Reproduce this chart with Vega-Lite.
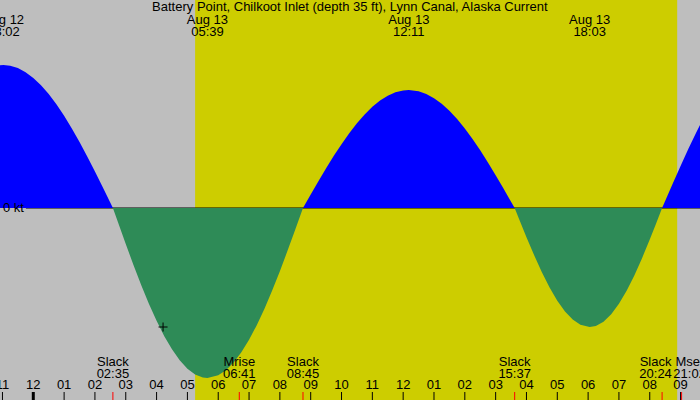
{
  "$schema": "https://vega.github.io/schema/vega-lite/v6.json",
  "width": 700,
  "height": 400,
  "autosize": {"type": "fit", "contains": "padding"},
  "padding": 0,
  "background": "#bebebe",
  "config": {
    "view": {"stroke": null},
    "axis": {"disable": true},
    "text": {"font": "Liberation Sans", "fontSize": 13, "color": "black"}
  },
  "datasets": {
    "curve": [
      {"t": -1.1, "v": 2.855}, {"t": -0.967, "v": 2.86}, {"t": -0.75, "v": 2.847}, {"t": -0.5, "v": 2.799},
      {"t": -0.25, "v": 2.717}, {"t": 0, "v": 2.602}, {"t": 0.25, "v": 2.455}, {"t": 0.5, "v": 2.278},
      {"t": 0.75, "v": 2.074}, {"t": 1.0, "v": 1.843}, {"t": 1.25, "v": 1.59}, {"t": 1.5, "v": 1.319},
      {"t": 1.75, "v": 1.029}, {"t": 2.0, "v": 0.73}, {"t": 2.25, "v": 0.42}, {"t": 2.5, "v": 0.105},
      {"t": 2.583, "v": 0},
      {"t": 2.8, "v": -0.377}, {"t": 3.0, "v": -0.721}, {"t": 3.25, "v": -1.139}, {"t": 3.5, "v": -1.539},
      {"t": 3.75, "v": -1.913}, {"t": 4.0, "v": -2.257}, {"t": 4.25, "v": -2.563}, {"t": 4.5, "v": -2.826},
      {"t": 4.75, "v": -3.046}, {"t": 5.0, "v": -3.213}, {"t": 5.25, "v": -3.329}, {"t": 5.5, "v": -3.39},
      {"t": 5.65, "v": -3.4}, {"t": 6.0, "v": -3.347}, {"t": 6.25, "v": -3.244}, {"t": 6.5, "v": -3.09},
      {"t": 6.75, "v": -2.885}, {"t": 7.0, "v": -2.635}, {"t": 7.25, "v": -2.343}, {"t": 7.5, "v": -2.013},
      {"t": 7.75, "v": -1.652}, {"t": 8.0, "v": -1.263}, {"t": 8.25, "v": -0.852}, {"t": 8.5, "v": -0.43},
      {"t": 8.75, "v": 0},
      {"t": 9.0, "v": 0.269}, {"t": 9.25, "v": 0.535}, {"t": 9.5, "v": 0.794}, {"t": 9.75, "v": 1.043},
      {"t": 10.0, "v": 1.277}, {"t": 10.25, "v": 1.496}, {"t": 10.5, "v": 1.694}, {"t": 10.75, "v": 1.871},
      {"t": 11.0, "v": 2.023}, {"t": 11.25, "v": 2.149}, {"t": 11.5, "v": 2.246}, {"t": 11.75, "v": 2.314},
      {"t": 12.0, "v": 2.352}, {"t": 12.183, "v": 2.36}, {"t": 12.5, "v": 2.335}, {"t": 12.75, "v": 2.281},
      {"t": 13.0, "v": 2.197}, {"t": 13.25, "v": 2.084}, {"t": 13.5, "v": 1.944}, {"t": 13.75, "v": 1.779},
      {"t": 14.0, "v": 1.59}, {"t": 14.25, "v": 1.381}, {"t": 14.5, "v": 1.155}, {"t": 14.75, "v": 0.912},
      {"t": 15.0, "v": 0.656}, {"t": 15.25, "v": 0.394}, {"t": 15.5, "v": 0.125}, {"t": 15.617, "v": 0},
      {"t": 15.75, "v": -0.204}, {"t": 16.0, "v": -0.583}, {"t": 16.25, "v": -0.946}, {"t": 16.5, "v": -1.284},
      {"t": 16.75, "v": -1.59}, {"t": 17.0, "v": -1.854}, {"t": 17.25, "v": -2.07}, {"t": 17.5, "v": -2.231},
      {"t": 17.75, "v": -2.335}, {"t": 18.05, "v": -2.38}, {"t": 18.25, "v": -2.359}, {"t": 18.5, "v": -2.273},
      {"t": 18.75, "v": -2.124}, {"t": 19.0, "v": -1.916}, {"t": 19.25, "v": -1.655}, {"t": 19.5, "v": -1.348},
      {"t": 19.75, "v": -1.003}, {"t": 20.0, "v": -0.629}, {"t": 20.2, "v": -0.318}, {"t": 20.4, "v": 0},
      {"t": 20.75, "v": 0.494}, {"t": 21.0, "v": 0.841}, {"t": 21.25, "v": 1.178}, {"t": 21.5, "v": 1.5},
      {"t": 21.7, "v": 1.746}
    ],
    "hours": [
      {"t": -1, "lab": "11"}, {"t": 0, "lab": "12"}, {"t": 1, "lab": "01"}, {"t": 2, "lab": "02"},
      {"t": 3, "lab": "03"}, {"t": 4, "lab": "04"}, {"t": 5, "lab": "05"}, {"t": 6, "lab": "06"},
      {"t": 7, "lab": "07"}, {"t": 8, "lab": "08"}, {"t": 9, "lab": "09"}, {"t": 10, "lab": "10"},
      {"t": 11, "lab": "11"}, {"t": 12, "lab": "12"}, {"t": 13, "lab": "01"}, {"t": 14, "lab": "02"},
      {"t": 15, "lab": "03"}, {"t": 16, "lab": "04"}, {"t": 17, "lab": "05"}, {"t": 18, "lab": "06"},
      {"t": 19, "lab": "07"}, {"t": 20, "lab": "08"}, {"t": 21, "lab": "09"}
    ],
    "extremes": [
      {"t": -0.967, "day": "Aug 12", "time": "23:02"},
      {"t": 5.65, "day": "Aug 13", "time": "05:39"},
      {"t": 12.183, "day": "Aug 13", "time": "12:11"},
      {"t": 18.05, "day": "Aug 13", "time": "18:03"}
    ],
    "events": [
      {"t": 2.583, "name": "Slack", "time": "02:35"},
      {"t": 6.683, "name": "Mrise", "time": "06:41"},
      {"t": 8.75, "name": "Slack", "time": "08:45"},
      {"t": 15.617, "name": "Slack", "time": "15:37"},
      {"t": 20.4, "name": "Slack", "time": "20:24"},
      {"t": 21.033, "name": "Mset", "time": "21:02"}
    ],
    "daylight": [{"start": 5.25, "end": 20.89}],
    "heading": [{"label": "Battery Point, Chilkoot Inlet (depth 35 ft), Lynn Canal, Alaska Current", "t": 10.27}],
    "zeroline": [{"from": -0.24, "to": 21.63, "v": 0, "label": "0 kt", "lt": -0.983}],
    "marker": [{"t": 4.21, "v": -2.38}]
  },
  "layer": [
    {
      "data": {"name": "daylight"},
      "mark": {"type": "rect", "color": "#cdcd00", "clip": true},
      "encoding": {
        "x": {"field": "start", "type": "quantitative", "scale": {"domain": [-1.08, 21.63], "nice": false, "zero": false}, "axis": null},
        "x2": {"field": "end"}
      }
    },
    {
      "data": {"name": "zeroline"},
      "mark": {"type": "rule", "color": "black", "strokeWidth": 1, "clip": true},
      "encoding": {
        "x": {"field": "from", "type": "quantitative", "axis": null, "title": null},
        "x2": {"field": "to"},
        "y": {"field": "v", "type": "quantitative", "scale": {"domain": [-3.84, 4.16], "nice": false, "zero": false}, "axis": null, "title": null}
      }
    },
    {
      "data": {"name": "curve"},
      "transform": [{"filter": "datum.v >= 0"}],
      "mark": {"type": "area", "color": "#0000ff", "clip": true},
      "encoding": {
        "x": {"field": "t", "type": "quantitative", "axis": null},
        "y": {"field": "v", "type": "quantitative", "axis": null},
        "y2": {"datum": 0}
      }
    },
    {
      "data": {"name": "curve"},
      "transform": [{"filter": "datum.v <= 0"}],
      "mark": {"type": "area", "color": "#2e8b57", "clip": true},
      "encoding": {
        "x": {"field": "t", "type": "quantitative", "axis": null},
        "y": {"field": "v", "type": "quantitative", "axis": null},
        "y2": {"datum": 0}
      }
    },
    {
      "data": {"name": "hours"},
      "mark": {"type": "rule", "color": "black", "strokeWidth": 1, "clip": true},
      "encoding": {
        "x": {"field": "t", "type": "quantitative", "axis": null},
        "y": {"datum": -3.68, "type": "quantitative", "axis": null},
        "y2": {"datum": -3.84}
      }
    },
    {
      "data": {"name": "hours"},
      "transform": [{"filter": "datum.t == 0"}],
      "mark": {"type": "rule", "color": "black", "strokeWidth": 3, "clip": true},
      "encoding": {
        "x": {"field": "t", "type": "quantitative", "axis": null},
        "y": {"datum": -3.68, "type": "quantitative", "axis": null},
        "y2": {"datum": -3.84}
      }
    },
    {
      "data": {"name": "events"},
      "mark": {"type": "rule", "color": "#ff0000", "strokeWidth": 1, "clip": true},
      "encoding": {
        "x": {"field": "t", "type": "quantitative", "axis": null},
        "y": {"datum": -3.68, "type": "quantitative", "axis": null},
        "y2": {"datum": -3.84}
      }
    },
    {
      "data": {"name": "hours"},
      "mark": {"type": "text", "align": "center", "baseline": "alphabetic", "clip": true},
      "encoding": {
        "x": {"field": "t", "type": "quantitative", "axis": null},
        "y": {"datum": -3.626, "type": "quantitative", "axis": null},
        "text": {"field": "lab"}
      }
    },
    {
      "data": {"name": "extremes"},
      "mark": {"type": "text", "align": "center", "baseline": "alphabetic", "clip": true},
      "encoding": {
        "x": {"field": "t", "type": "quantitative", "axis": null},
        "y": {"datum": 3.68, "type": "quantitative", "axis": null},
        "text": {"field": "day"}
      }
    },
    {
      "data": {"name": "extremes"},
      "mark": {"type": "text", "align": "center", "baseline": "alphabetic", "clip": true},
      "encoding": {
        "x": {"field": "t", "type": "quantitative", "axis": null},
        "y": {"datum": 3.44, "type": "quantitative", "axis": null},
        "text": {"field": "time"}
      }
    },
    {
      "data": {"name": "events"},
      "transform": [{"filter": "datum.time != '20:24' && datum.time != '21:02'"}],
      "mark": {"type": "text", "align": "center", "baseline": "alphabetic", "clip": true},
      "encoding": {
        "x": {"field": "t", "type": "quantitative", "axis": null},
        "y": {"datum": -3.16, "type": "quantitative", "axis": null},
        "text": {"field": "name"}
      }
    },
    {
      "data": {"name": "events"},
      "transform": [{"filter": "datum.time != '20:24' && datum.time != '21:02'"}],
      "mark": {"type": "text", "align": "center", "baseline": "alphabetic", "clip": true},
      "encoding": {
        "x": {"field": "t", "type": "quantitative", "axis": null},
        "y": {"datum": -3.40, "type": "quantitative", "axis": null},
        "text": {"field": "time"}
      }
    },
    {
      "data": {"name": "events"},
      "transform": [{"filter": "datum.time == '20:24'"}],
      "mark": {"type": "text", "align": "center", "baseline": "alphabetic", "clip": true, "dx": -6.5},
      "encoding": {
        "x": {"field": "t", "type": "quantitative", "axis": null},
        "y": {"datum": -3.16, "type": "quantitative", "axis": null},
        "text": {"field": "name"}
      }
    },
    {
      "data": {"name": "events"},
      "transform": [{"filter": "datum.time == '20:24'"}],
      "mark": {"type": "text", "align": "center", "baseline": "alphabetic", "clip": true, "dx": -6.5},
      "encoding": {
        "x": {"field": "t", "type": "quantitative", "axis": null},
        "y": {"datum": -3.40, "type": "quantitative", "axis": null},
        "text": {"field": "time"}
      }
    },
    {
      "data": {"name": "events"},
      "transform": [{"filter": "datum.time == '21:02'"}],
      "mark": {"type": "text", "align": "center", "baseline": "alphabetic", "clip": true, "dx": 8},
      "encoding": {
        "x": {"field": "t", "type": "quantitative", "axis": null},
        "y": {"datum": -3.16, "type": "quantitative", "axis": null},
        "text": {"field": "name"}
      }
    },
    {
      "data": {"name": "events"},
      "transform": [{"filter": "datum.time == '21:02'"}],
      "mark": {"type": "text", "align": "center", "baseline": "alphabetic", "clip": true, "dx": 8},
      "encoding": {
        "x": {"field": "t", "type": "quantitative", "axis": null},
        "y": {"datum": -3.40, "type": "quantitative", "axis": null},
        "text": {"field": "time"}
      }
    },
    {
      "data": {"name": "heading"},
      "mark": {"type": "text", "align": "center", "baseline": "alphabetic", "clip": true},
      "encoding": {
        "x": {"field": "t", "type": "quantitative", "axis": null},
        "y": {"datum": 3.94, "type": "quantitative", "axis": null},
        "text": {"field": "label"}
      }
    },
    {
      "data": {"name": "zeroline"},
      "mark": {"type": "text", "align": "left", "baseline": "middle", "clip": true},
      "encoding": {
        "x": {"field": "lt", "type": "quantitative", "axis": null},
        "y": {"field": "v", "type": "quantitative", "axis": null},
        "text": {"field": "label"}
      }
    },
    {
      "data": {"name": "marker"},
      "mark": {"type": "point", "shape": "M-1,0L1,0M0,-1L0,1", "size": 81, "filled": false, "stroke": "black", "strokeWidth": 1, "opacity": 1, "clip": true},
      "encoding": {
        "x": {"field": "t", "type": "quantitative", "axis": null},
        "y": {"field": "v", "type": "quantitative", "axis": null}
      }
    }
  ]
}
